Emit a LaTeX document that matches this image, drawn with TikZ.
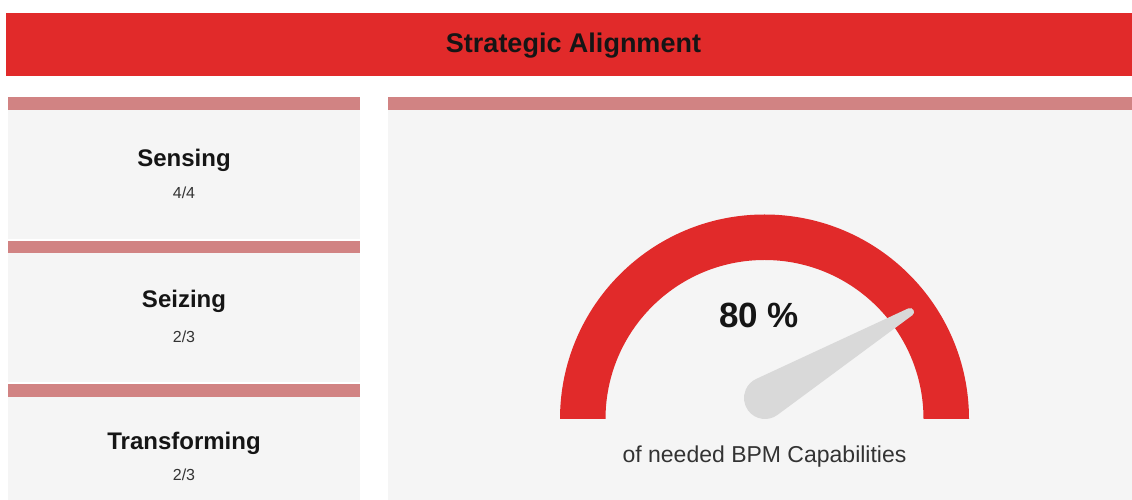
\documentclass[tikz,border=0pt]{standalone}
\usepackage{fontspec}
\setmainfont{Liberation Sans}
\usetikzlibrary{calc}
\definecolor{hdr}{HTML}{E12A2A}
\definecolor{stripe}{HTML}{D18383}
\definecolor{panel}{HTML}{F5F5F5}
\definecolor{needlec}{HTML}{D9D9D9}
\definecolor{ink}{HTML}{151515}
\definecolor{subc}{HTML}{333333}
\begin{document}
\begin{tikzpicture}[x=1pt,y=1pt,
  headtext/.style={font=\fontsize{27}{30}\selectfont\bfseries, text=ink, anchor=base, inner sep=0pt},
  cardtitle/.style={font=\fontsize{24}{28}\selectfont\bfseries, text=ink, anchor=base, inner sep=0pt},
  cardsub/.style={font=\fontsize{16}{18}\selectfont, text=subc, anchor=base, inner sep=0pt},
  bigval/.style={font=\fontsize{35}{40}\selectfont\bfseries, text=ink, anchor=base, inner sep=0pt},
  caption/.style={font=\fontsize{23}{26}\selectfont, text=subc, anchor=base, inner sep=0pt},
  panelbg/.style={fill=panel},
  stripebar/.style={fill=stripe}]
\useasboundingbox (0,0) rectangle (1132,500);
\fill[white] (0,0) rectangle (1132,500);
% header
\fill[hdr] (6,424) rectangle (1132,487);
\node[headtext] (title) at (573.5,447) {Strategic Alignment};
% left cards
\fill[panelbg] (8,261) rectangle (360,390);
\fill[stripebar] (8,390) rectangle (360,403);
\fill[panelbg] (8,118) rectangle (360,247);
\fill[stripebar] (8,247) rectangle (360,259);
\fill[panelbg] (8,0) rectangle (360,103);
\fill[stripebar] (8,103) rectangle (360,116);
\node[cardtitle] (sensing) at (184,333) {Sensing};
\node[cardsub] (sensingv) at (184,301) {4/4};
\node[cardtitle] (seizing) at (184,192) {Seizing};
\node[cardsub] (seizingv) at (184,157) {2/3};
\node[cardtitle] (transf) at (184,50) {Transforming};
\node[cardsub] (transfv) at (184,19) {2/3};
% right card
\fill[panelbg] (388,0) rectangle (1132,390);
\fill[stripebar] (388,390) rectangle (1132,403);
% gauge
\fill[hdr] (560,81) arc[start angle=180, end angle=0, radius=204.5] -- (923.5,81) arc[start angle=0, end angle=180, radius=159] -- cycle;
\coordinate (B) at (765,102);
\coordinate (T) at (910,188);
\fill[needlec] ($(B)+(114.9:21)$) -- ($(T)+(114.9:4)$) arc[start angle=114.9, end angle=-53.5, radius=4] -- ($(B)+(-53.5:21)$) arc[start angle=-53.5, end angle=-245.1, radius=21] -- cycle;
\node[bigval] (pct) at (759,172) {80 \%};
\node[caption] (cap) at (764.5,37) {of needed BPM Capabilities};
\end{tikzpicture}
\end{document}
